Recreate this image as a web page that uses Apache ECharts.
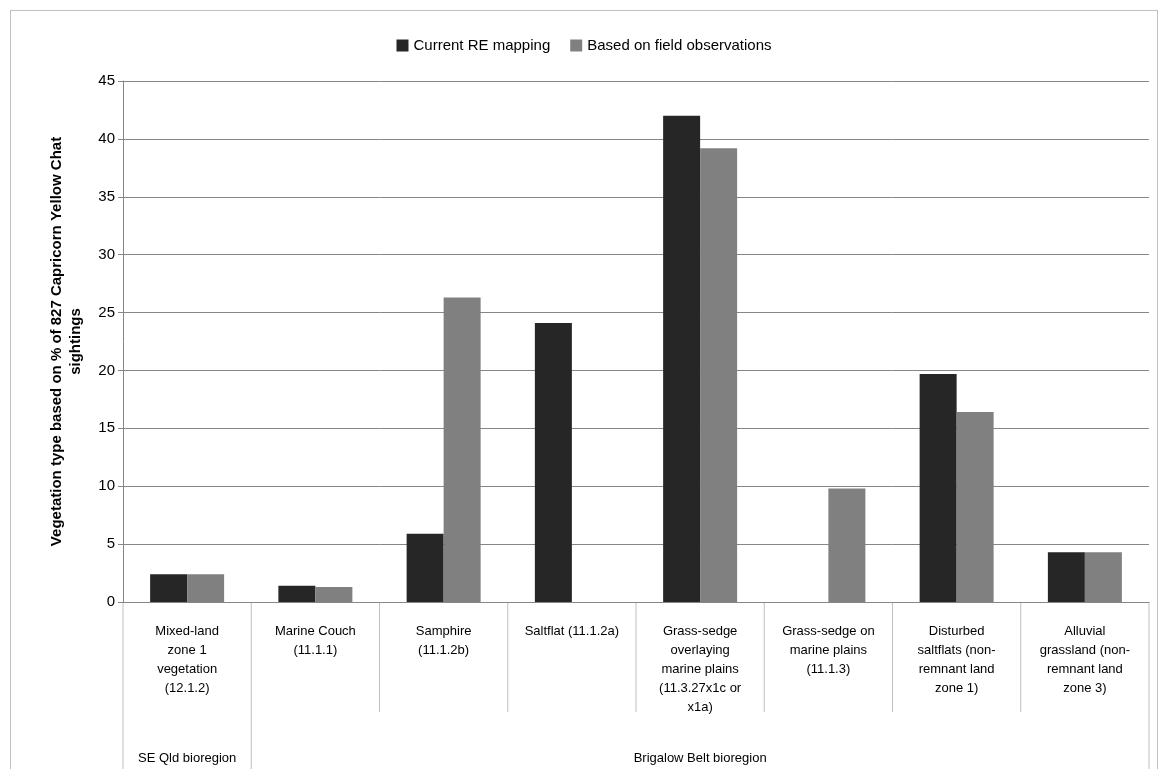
<!DOCTYPE html>
<html><head><meta charset="utf-8">
<script src="https://cdn.jsdelivr.net/npm/echarts@6/dist/echarts.min.js"></script>
<style>html,body{margin:0;padding:0;background:#fff}#c{position:absolute;left:10px;top:10px;width:1148px;height:760px;border:1px solid #bfbfbf;box-sizing:border-box}</style>
</head><body><div id="c"></div>
<script>
// categories and values
let categories = ['Mixed-land\nzone 1\nvegetation\n(12.1.2)','Marine Couch\n(11.1.1)','Samphire\n(11.1.2b)','Saltflat (11.1.2a)','Grass-sedge\noverlaying\nmarine plains\n(11.3.27x1c or\nx1a)','Grass-sedge on\nmarine plains\n(11.1.3)','Disturbed\nsaltflats (non-\nremnant land\nzone 1)','Alluvial\ngrassland (non-\nremnant land\nzone 3)']
let regions = [{name:'SE Qld bioregion',from:0,to:1},{name:'Brigalow Belt bioregion',from:1,to:8}]
let currentRE = [2.4,1.4,5.9,24.1,42.0,0,19.7,4.3]
let fieldObs = [2.4,1.3,26.3,0,39.2,9.8,16.4,4.3]
let seriesNames = ['Current RE mapping','Based on field observations']

let font = 'Liberation Sans'
let chart = echarts.init(document.getElementById('c'))
chart.setOption({
  textStyle:{fontFamily:font},
  color:['#262626','#808080'],
  legend:{data:seriesNames,top:22,left:'center',itemWidth:12,itemHeight:12,icon:'rect',itemGap:20,textStyle:{fontSize:15,color:'#000'}},
  grid:{left:112,right:8,top:70,bottom:167},
  xAxis:{type:'category',data:categories,axisLine:{lineStyle:{color:'#868686'}},
     axisTick:{show:false},
     axisLabel:{interval:0,color:'#000',fontSize:13,lineHeight:19,margin:20,verticalAlign:'top'}},
  yAxis:{type:'value',min:0,max:45,interval:5,
    name:'Vegetation type based on % of 827 Capricorn Yellow Chat\nsightings',nameLocation:'middle',nameGap:38,
    nameTextStyle:{fontSize:15,fontWeight:'bold',color:'#000',lineHeight:19},
    axisLine:{show:true,lineStyle:{color:'#868686'}},axisTick:{show:true,length:5},
    axisLabel:{color:'#000',fontSize:15},splitLine:{lineStyle:{color:'#868686'}}},
  series:[
    {name:seriesNames[0],type:'bar',data:currentRE,barWidth:37,barGap:'0%'},
    {name:seriesNames[1],type:'bar',data:fieldObs,barWidth:37}
  ]
})

// category separators and bioregion row, placed from the axis scale
let y0 = chart.convertToPixel({yAxisIndex:0},0)
let x0 = chart.convertToPixel({xAxisIndex:0},0), x1 = chart.convertToPixel({xAxisIndex:0},1)
let step = x1 - x0
let edge = i => x0 - step/2 + i*step
let lineStyle = {stroke:'#bfbfbf',lineWidth:1}
let gr = []
for(let i=0;i<=categories.length;i++){
  let long = regions.some(r=>r.from===i||r.to===i)
  gr.push({type:'line',shape:{x1:edge(i),y1:y0,x2:edge(i),y2:long?760:y0+110},style:lineStyle,silent:true})
}
regions.forEach(r=>{
  gr.push({type:'text',x:(edge(r.from)+edge(r.to))/2,y:y0+156,style:{text:r.name,font:'13px '+font,fill:'#000',align:'center',verticalAlign:'middle'}})
})
chart.setOption({graphic:gr})
</script></body></html>
